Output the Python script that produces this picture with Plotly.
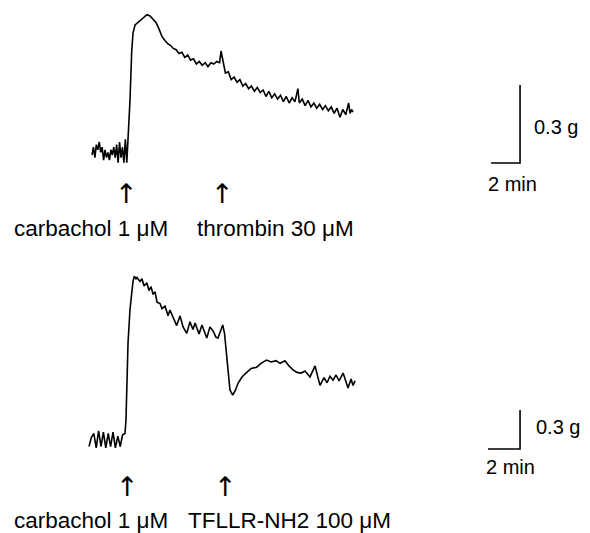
import plotly.graph_objects as go

# ---- Top recording: carbachol 1 uM then thrombin 30 uM (time in min, tension in g) ----
top_t = [0, 0.1, 0.2, 0.3, 0.4, 0.5, 0.6, 0.7, 0.8, 0.9, 1.0, 1.1, 1.2, 1.3, 1.4, 1.5, 1.6, 1.7, 1.8, 1.9,
         2.0, 2.1, 2.2, 2.3, 2.4, 2.52, 2.62, 2.74, 2.83, 2.97, 3.17, 3.38, 3.59, 3.79, 4.0, 4.21, 4.41,
         4.62, 4.83, 5.03, 5.24, 5.45, 5.6, 5.8, 6.0, 6.2, 6.4, 6.6, 6.8, 7.0, 7.2, 7.4, 7.6, 7.8, 8.0,
         8.2, 8.4, 8.6, 8.8, 8.9, 9.0, 9.1, 9.2, 9.4, 9.6, 9.8, 10.0, 10.2, 10.4, 10.6, 10.8, 11.0, 11.2,
         11.4, 11.6, 11.8, 12.0, 12.2, 12.4, 12.6, 12.8, 13.0, 13.2, 13.4, 13.6, 13.8, 14.0, 14.2, 14.3,
         14.5, 14.7, 14.9, 15.1, 15.3, 15.5, 15.7, 15.9, 16.1, 16.3, 16.5, 16.7, 16.9, 17.1, 17.3, 17.5,
         17.7, 17.8, 17.9, 18.0]
top_g = [0.00, 0.03, -0.01, 0.04, 0.02, 0.05, 0.01, 0.03, -0.02, 0.02, -0.01, 0.01, -0.02, 0.02, 0.00,
         0.03, -0.01, 0.04, -0.03, 0.05, -0.01, 0.03, -0.03, 0.06, -0.03, 0.10, 0.21, 0.40, 0.47, 0.50,
         0.51, 0.52, 0.53, 0.54, 0.535, 0.52, 0.51, 0.485, 0.455, 0.44, 0.427, 0.42, 0.41, 0.405, 0.39,
         0.395, 0.375, 0.385, 0.365, 0.37, 0.35, 0.36, 0.345, 0.355, 0.34, 0.355, 0.35, 0.36, 0.355, 0.40,
         0.37, 0.33, 0.315, 0.32, 0.29, 0.30, 0.28, 0.29, 0.265, 0.275, 0.255, 0.265, 0.245, 0.26, 0.24,
         0.25, 0.225, 0.245, 0.22, 0.235, 0.215, 0.23, 0.205, 0.225, 0.20, 0.22, 0.205, 0.255, 0.20, 0.215,
         0.19, 0.21, 0.185, 0.20, 0.18, 0.195, 0.175, 0.19, 0.17, 0.185, 0.16, 0.18, 0.145, 0.175, 0.155,
         0.20, 0.16, 0.175, 0.165]

# ---- Bottom recording: carbachol 1 uM then TFLLR-NH2 100 uM ----
bot_t = [0, 0.15, 0.3, 0.45, 0.6, 0.75, 0.9, 1.05, 1.2, 1.35, 1.5, 1.65, 1.8, 1.95, 2.1, 2.25, 2.31,
         2.375, 2.44, 2.56, 2.67, 2.75, 2.83, 2.94, 3.0, 3.19, 3.31, 3.44, 3.61, 3.75, 3.88, 4.0, 4.13,
         4.25, 4.44, 4.56, 4.75, 4.94, 5.06, 5.25, 5.48, 5.69, 5.88, 6.11, 6.31, 6.5, 6.63, 6.88, 7.06,
         7.36, 7.56, 7.75, 7.94, 8.06, 8.25, 8.36, 8.47, 8.56, 8.69, 8.81, 8.98, 9.13, 9.33, 9.56, 9.86,
         10.13, 10.48, 10.75, 11.1, 11.38, 11.69, 11.94, 12.25, 12.5, 12.75, 13.0, 13.25, 13.5, 13.81,
         14.13, 14.31, 14.44, 14.69, 14.88, 15.06, 15.25, 15.44, 15.63, 15.88, 16.06, 16.19, 16.38, 16.5,
         16.63]
bot_g = [-0.05, 0.02, 0.05, -0.06, 0.07, -0.05, 0.06, -0.06, 0.05, -0.05, 0.06, -0.06, 0.03, -0.05,
         0.04, 0.05, 0.15, 0.46, 0.75, 1.0, 1.15, 1.22, 1.26, 1.24, 1.25, 1.22, 1.24, 1.185, 1.21, 1.15,
         1.18, 1.12, 1.14, 1.06, 1.05, 1.01, 1.03, 0.955, 1.0, 0.94, 0.88, 0.955, 0.87, 0.82, 0.91, 0.85,
         0.90, 0.815, 0.885, 0.785, 0.87, 0.84, 0.79, 0.785, 0.845, 0.885, 0.82, 0.69, 0.50, 0.385, 0.346,
         0.377, 0.44, 0.485, 0.52, 0.55, 0.56, 0.59, 0.615, 0.60, 0.61, 0.59, 0.61, 0.57, 0.54, 0.52, 0.515,
         0.53, 0.485, 0.57, 0.48, 0.42, 0.48, 0.44, 0.49, 0.46, 0.50, 0.455, 0.515, 0.455, 0.40, 0.47, 0.42,
         0.455]

# drug additions (min) and labels
top_add_t = [2.41, 8.97]
top_labels = ["carbachol 1 μM", "thrombin 30 μM"]
bot_add_t = [2.375, 8.5]
bot_labels = ["carbachol 1 μM", "TFLLR-NH2 100 μM"]

# calibration bars: 2 min, 0.3 g
bar_min = 2
bar_g = 0.3
top_bar_origin = (27.52, -0.031)
bot_bar_origin = (24.94, -0.069)

line = dict(color="black", width=1.6)
fig = go.Figure()
fig.add_trace(go.Scatter(x=top_t, y=top_g, mode="lines", line=line, xaxis="x", yaxis="y"))
fig.add_trace(go.Scatter(x=bot_t, y=bot_g, mode="lines", line=line, xaxis="x2", yaxis="y2"))

tx0, ty0 = top_bar_origin
fig.add_trace(go.Scatter(x=[tx0, tx0 + bar_min, tx0 + bar_min], y=[ty0, ty0, ty0 + bar_g],
                         mode="lines", line=dict(color="black", width=1.6), xaxis="x", yaxis="y"))
bx0, by0 = bot_bar_origin
fig.add_trace(go.Scatter(x=[bx0, bx0 + bar_min, bx0 + bar_min], y=[by0, by0, by0 + bar_g],
                         mode="lines", line=dict(color="black", width=1.6), xaxis="x2", yaxis="y2"))

font_lbl = dict(family="Liberation Sans, Arial, sans-serif", size=22.5, color="black")
font_arrow = dict(family="DejaVu Sans", size=27, color="black")
ann = []
# arrows and drug labels (x at addition time)
for t in top_add_t:
    ann.append(dict(x=t, y=1 - 193 / 533, xref="x", yref="paper", text="↑", showarrow=False,
                    xanchor="center", yanchor="middle", font=font_arrow))
for t in bot_add_t:
    ann.append(dict(x=t, y=1 - 486 / 533, xref="x2", yref="paper", text="↑", showarrow=False,
                    xanchor="center", yanchor="middle", font=font_arrow))
for xc, yc, txt in [(91, 228, top_labels[0]), (275, 228, top_labels[1]),
                    (91, 520, bot_labels[0]), (289, 520, bot_labels[1])]:
    ann.append(dict(x=xc / 590, y=1 - yc / 533, xref="paper", yref="paper", text=txt,
                    showarrow=False, xanchor="center", yanchor="middle", font=font_lbl))
# calibration labels
font_sc = dict(family="Liberation Sans, Arial, sans-serif", size=20, color="black")
ann.append(dict(x=tx0 + bar_min + 0.8, y=ty0 + bar_g / 2 - 0.01, xref="x", yref="y", text="0.3 g",
                showarrow=False, xanchor="left", yanchor="middle", font=font_sc))
ann.append(dict(x=tx0 + bar_min / 2 + 0.45, y=1 - 184 / 533, xref="x", yref="paper", text="2 min",
                showarrow=False, xanchor="center", yanchor="middle", font=font_sc))
ann.append(dict(x=bx0 + bar_min + 0.9, y=by0 + bar_g / 2 + 0.02, xref="x2", yref="y2", text="0.3 g",
                showarrow=False, xanchor="left", yanchor="middle", font=font_sc))
ann.append(dict(x=bx0 + bar_min / 2 + 0.4, y=1 - 467 / 533, xref="x2", yref="paper", text="2 min",
                showarrow=False, xanchor="center", yanchor="middle", font=font_sc))

hidden = dict(visible=False, showgrid=False, zeroline=False, fixedrange=True)
fig.update_layout(
    width=590, height=533, margin=dict(l=0, r=0, t=0, b=0),
    paper_bgcolor="white", plot_bgcolor="white", showlegend=False,
    xaxis=dict(range=[-92 / 14.5, (590 - 92) / 14.5], domain=[0, 1], **hidden),
    yaxis=dict(range=[-(533 - 155) / 260, 155 / 260], domain=[0, 1], **hidden),
    xaxis2=dict(range=[-89 / 16, (590 - 89) / 16], domain=[0, 1], overlaying="x", anchor="y2", **hidden),
    yaxis2=dict(range=[-(533 - 440) / 130, 440 / 130], domain=[0, 1], overlaying="y", anchor="x2", **hidden),
    annotations=ann,
)
fig.write_html("out.html", config={"displayModeBar": False},
               post_script="document.body.style.margin='0';document.body.style.overflow='hidden';")
